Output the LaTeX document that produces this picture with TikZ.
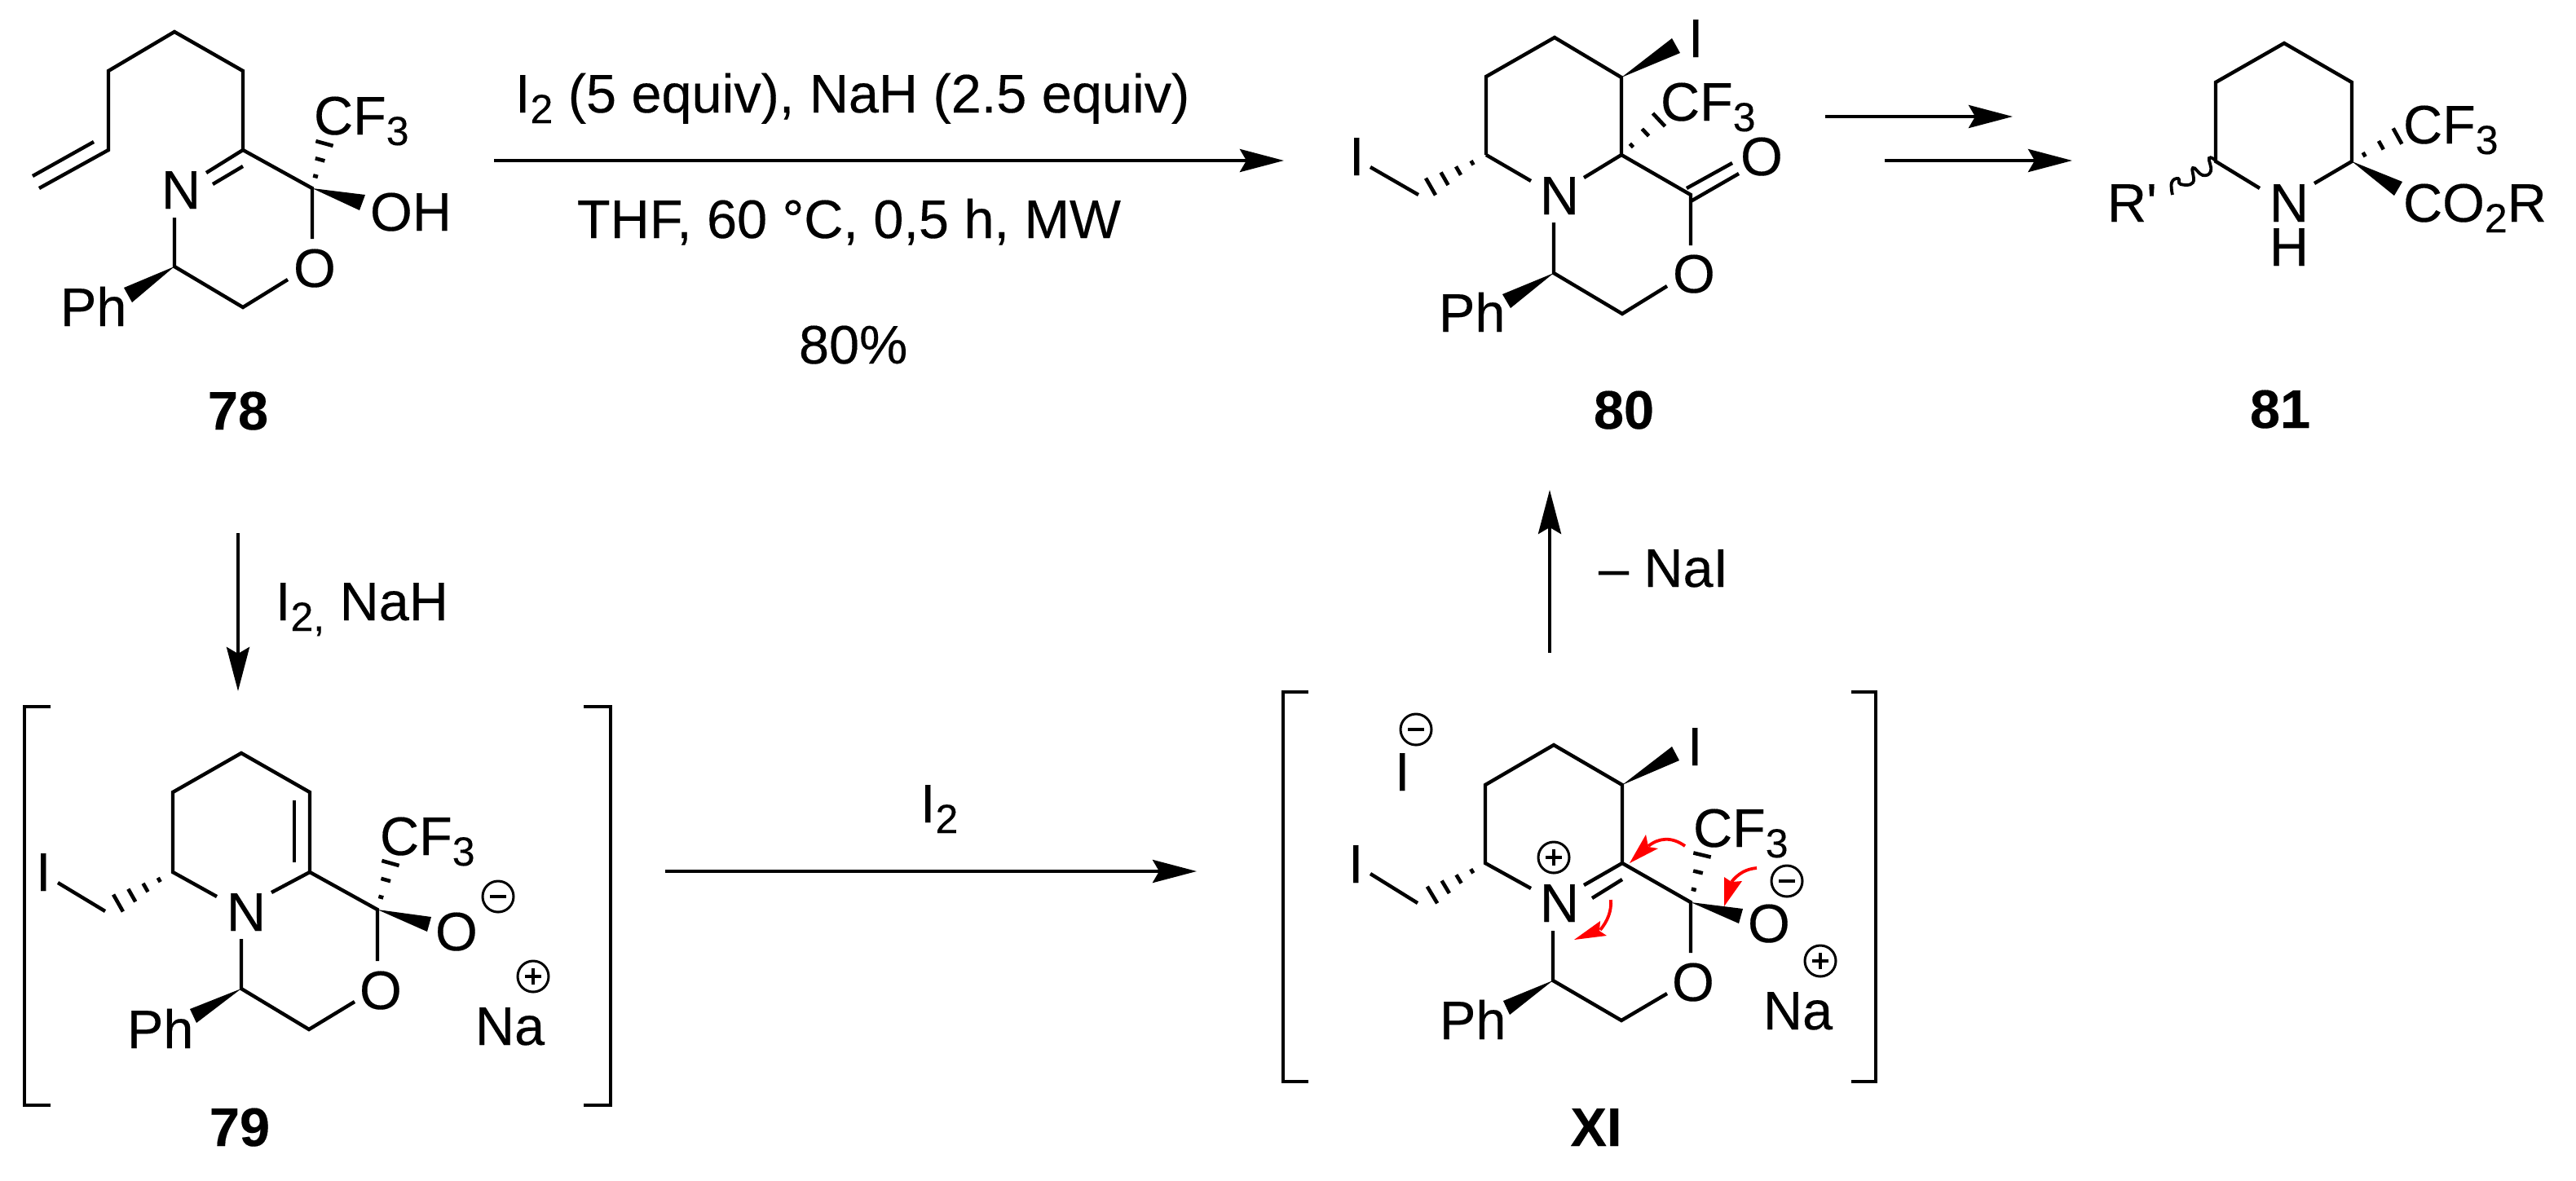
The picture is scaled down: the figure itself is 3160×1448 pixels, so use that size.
\documentclass[tikz,border=0pt]{standalone}
\usepackage{fontspec}
\setmainfont{Liberation Sans}[FakeBold=0.25]
\newfontfamily\rawf{Liberation Sans}[FakeBold=0.25]
\usetikzlibrary{arrows.meta,calc}
\newcommand\subsc[1]{\raisebox{-6.5pt}{\fontsize{25}{30}\selectfont #1}}
\tikzset{
  bond/.style={line width=2.2pt,line join=miter,line cap=butt},
  hashd/.style={line width=2.3pt},
  wedgeb/.style={fill=black,draw=none},
  rxn/.style={line width=2.2pt,-{Stealth[length=27pt,width=14pt,inset=4pt]}},
  lab/.style={inner sep=0pt,outer sep=0pt,anchor=base west,font=\fontsize{33.3}{40}\selectfont},
  num/.style={inner sep=0pt,outer sep=0pt,anchor=base,font=\fontsize{33.3}{40}\selectfont\bfseries},
  chgc/.style={circle,draw,line width=1.5pt,minimum size=19pt,inner sep=0pt},
  chgl/.style={line width=1.8pt},
  mech/.style={draw=red,line width=1.9pt},
  mechh/.style={fill=red,draw=none},
  brk/.style={line width=2.2pt,line join=miter}
}
\newcommand\hashthree[2]{\foreach \f/\w in {0.27/1.5pt,0.64/3pt,1/5.5pt}{\draw[hashd] ($(#1)!\f!(#2)!\w!90:(#1)$) -- ($(#1)!\f!(#2)!\w!-90:(#1)$);}}
\newcommand\hashfour[2]{\foreach \f/\w in {0.25/1.5pt,0.5/3pt,0.75/4.5pt,1/6pt}{\draw[hashd] ($(#1)!\f!(#2)!\w!90:(#1)$) -- ($(#1)!\f!(#2)!\w!-90:(#1)$);}}
\newcommand\chgminus[2]{\node[chgc] (#1) at (#2) {};\draw[chgl] (#1.center) ++(-10,0) -- ++(20,0);}
\newcommand\chgplus[2]{\node[chgc] (#1) at (#2) {};\draw[chgl] (#1.center) ++(-10,0) -- ++(20,0);\draw[chgl] (#1.center) ++(0,-10) -- ++(0,20);}
\begin{document}
\begin{tikzpicture}[x=0.5pt,y=-0.5pt]
\useasboundingbox (0,0) rectangle (3160,1448);
% ---------- 78
\draw[bond] (48,231) -- (133,184) -- (133,87) -- (214,39) -- (298,87) -- (298,184) -- (383,231) -- (383,293);
\draw[bond] (115,174) -- (40,216);
\draw[bond] (298,184) -- (253,212);
\draw[bond] (298,204) -- (261,226);
\draw[bond] (214,267) -- (214,327) -- (298,377) -- (353,343);
\fill[wedgeb] (383,231) -- (448,239) -- (441,258) -- cycle;
\fill[wedgeb] (214,327) -- (152,353) -- (162,371) -- cycle;
\coordinate (h78a) at (383,231); \coordinate (h78b) at (398,176);
\hashthree{h78a}{h78b}
\node[lab] (a78N) at (198,256) {N};
\node[lab] (a78O) at (360,352) {O};
\node[lab] (a78CF) at (385,165) {CF\subsc{3}};
\node[lab] (a78OH) at (454,283) {OH};
\node[lab] (a78Ph) at (74,400) {Ph};
\node[num] (a78) at (292,527) {78};
% ---------- main arrow
\coordinate (r1a) at (606,197); \coordinate (r1b) at (1575,197);
\draw[rxn] (r1a) -- (r1b);
\node[lab] (t1) at (632,138) {I\subsc{2} (5 equiv), NaH (2.5 equiv)};
\node[lab] (t2) at (708,292) {THF, 60 °C, 0,5 h, MW};
\node[lab] (t3) at (980,446) {80\%};
% ---------- 80
\draw[bond] (1823,190) -- (1823,94) -- (1907,46) -- (1989,95) -- (1989,190) -- (2074,239) -- (2074,301);
\draw[bond] (1878,222) -- (1823,190);
\draw[bond] (1989,190) -- (1943,218);
\draw[bond] (1906,273) -- (1906,335) -- (1990,385) -- (2045,351);
\draw[bond] (1681,205) -- (1740,239);
\draw[bond] (2069,231) -- (2125,200);
\draw[bond] (2074,247) -- (2133,213);
\fill[wedgeb] (1989,95) -- (2051,47) -- (2061,65) -- cycle;
\fill[wedgeb] (1906,335) -- (1843,361) -- (1853,378) -- cycle;
\coordinate (h80a) at (1989,190); \coordinate (h80b) at (2035,147);
\hashthree{h80a}{h80b}
\coordinate (h80c) at (1823,190); \coordinate (h80d) at (1755,229);
\hashfour{h80c}{h80d}
\node[lab] (b80N) at (1889,263) {N};
\node[lab] (b80O) at (2052,359) {O};
\node[lab] (b80Oc) at (2135,215) {O};
\node[lab] (b80I) at (1655,215) {I};
\node[lab] (b80It) at (2071,70) {I};
\node[lab] (b80CF) at (2037,148) {CF\subsc{3}};
\node[lab] (b80Ph) at (1765,407) {Ph};
\node[num] (b80) at (1992,526) {80};
% ---------- arrows to 81
\coordinate (r2a) at (2239,143); \coordinate (r2b) at (2469,143);
\draw[rxn] (r2a) -- (r2b);
\coordinate (r3a) at (2312,197); \coordinate (r3b) at (2542,197);
\draw[rxn] (r3a) -- (r3b);
% ---------- 81
\draw[bond] (2772,231) -- (2718,198) -- (2718,101) -- (2802,53) -- (2885,101) -- (2885,198) -- (2839,225);
\fill[wedgeb] (2885,198) -- (2947,223) -- (2937,240) -- cycle;
\coordinate (h81a) at (2885,198); \coordinate (h81b) at (2941,167);
\hashthree{h81a}{h81b}
\draw[line width=1.9pt] plot[smooth,tension=.8] coordinates {(2718,197) (2710,194) (2712,210) (2702,215) (2690,206) (2690,224) (2675,226) (2672,219) (2664,224) (2665,239)};
\node[lab] (c81R) at (2585,272) {\rawf R'};
\node[lab] (c81N) at (2784,272) {N};
\node[lab] (c81H) at (2784,326) {H};
\node[lab] (c81CF) at (2948,176) {CF\subsc{3}};
\node[lab] (c81CO) at (2948,272) {CO\subsc{2}R};
\node[num] (c81) at (2797,525) {81};
% ---------- 78 -> 79
\coordinate (r4a) at (292,654); \coordinate (r4b) at (292,848);
\draw[rxn] (r4a) -- (r4b);
\node[lab] (t4) at (338,761) {I\subsc{2,} NaH};
% ---------- 79
\draw[brk] (62,867) -- (30,867) -- (30,1356) -- (62,1356);
\draw[brk] (716,867) -- (749,867) -- (749,1356) -- (716,1356);
\draw[bond] (266,1100) -- (212,1070) -- (212,972) -- (296,924) -- (380,972) -- (380,1070) -- (463,1116) -- (463,1179);
\draw[bond] (361,982) -- (361,1058);
\draw[bond] (380,1070) -- (333,1095);
\draw[bond] (296,1152) -- (296,1213) -- (379,1263) -- (435,1229);
\draw[bond] (129,1118) -- (71,1083);
\fill[wedgeb] (463,1116) -- (529,1125) -- (524,1143) -- cycle;
\fill[wedgeb] (296,1213) -- (233,1238) -- (241,1255) -- cycle;
\coordinate (h79a) at (463,1116); \coordinate (h79b) at (479,1059);
\hashthree{h79a}{h79b}
\coordinate (h79c) at (212,1070); \coordinate (h79d) at (145,1108);
\hashfour{h79c}{h79d}
\node[lab] (d79I) at (44,1093) {I};
\node[lab] (d79N) at (278,1142) {N};
\node[lab] (d79O) at (441,1238) {O};
\node[lab] (d79Om) at (534,1166) {O};
\node[lab] (d79CF) at (466,1049) {CF\subsc{3}};
\node[lab] (d79Ph) at (156,1286) {Ph};
\node[lab] (d79Na) at (583,1282) {Na};
\chgminus{d79m}{611,1100}
\chgplus{d79p}{654,1198}
\node[num] (d79) at (294,1406) {79};
% ---------- 79 -> XI
\coordinate (r5a) at (816,1069); \coordinate (r5b) at (1468,1069);
\draw[rxn] (r5a) -- (r5b);
\node[lab] (t5) at (1129,1009) {I\subsc{2}};
% ---------- XI -> 80
\coordinate (r6a) at (1901,801); \coordinate (r6b) at (1901,601);
\draw[rxn] (r6a) -- (r6b);
\node[lab] (t6) at (1961,720) {– NaI};
% ---------- XI
\draw[brk] (1605,849) -- (1574,849) -- (1574,1327) -- (1605,1327);
\draw[brk] (2271,849) -- (2301,849) -- (2301,1327) -- (2271,1327);
\draw[bond] (1878,1090) -- (1822,1059) -- (1822,963) -- (1906,914) -- (1990,963) -- (1990,1059) -- (2074,1107) -- (2074,1169);
\draw[bond] (1990,1059) -- (1943,1086);
\draw[bond] (1990,1079) -- (1953,1102);
\draw[bond] (1905,1142) -- (1905,1203) -- (1989,1252) -- (2045,1219);
\draw[bond] (1739,1108) -- (1681,1072);
\fill[wedgeb] (1990,963) -- (2051,916) -- (2060,933) -- cycle;
\fill[wedgeb] (2074,1107) -- (2138,1115) -- (2133,1133) -- cycle;
\fill[wedgeb] (1905,1203) -- (1844,1228) -- (1852,1245) -- cycle;
\coordinate (hXa) at (2074,1107); \coordinate (hXb) at (2088,1049);
\hashthree{hXa}{hXb}
\coordinate (hXc) at (1822,1059); \coordinate (hXd) at (1757,1098);
\hashfour{hXc}{hXd}
\node[lab] (eI) at (1654,1083) {I};
\node[lab] (eIm) at (1711,970) {I};
\node[lab] (eIt) at (2070,939) {I};
\node[lab] (eCF) at (2077,1039) {CF\subsc{3}};
\node[lab] (eN) at (1889,1131) {N};
\node[lab] (eO) at (2051,1228) {O};
\node[lab] (eOm) at (2144,1156) {O};
\node[lab] (eNa) at (2163,1263) {Na};
\node[lab] (ePh) at (1766,1275) {Ph};
\chgminus{em1}{1737,895}
\chgminus{em2}{2192,1081}
\chgplus{ep1}{1906,1052}
\chgplus{ep2}{2233,1179}
\node[num] (eXI) at (1958,1406) {XI};
% red mechanism arrows
\draw[mech] (2067,1038) .. controls (2050,1026) and (2035,1028) .. (2022,1038);
\fill[mechh] (1999,1059) -- (2019,1024) -- (2022,1039) -- (2034,1041) -- cycle;
\draw[mech] (2155,1065) .. controls (2142,1066) and (2132,1072) .. (2124,1082);
\fill[mechh] (2115,1112) -- (2115,1076) -- (2124,1082) -- (2137,1081) -- cycle;
\draw[mech] (1976,1104) .. controls (1977,1118) and (1972,1130) .. (1963,1141);
\fill[mechh] (1931,1153) -- (1963,1130) -- (1962,1142) -- (1971,1148) -- cycle;
\end{tikzpicture}
\end{document}
